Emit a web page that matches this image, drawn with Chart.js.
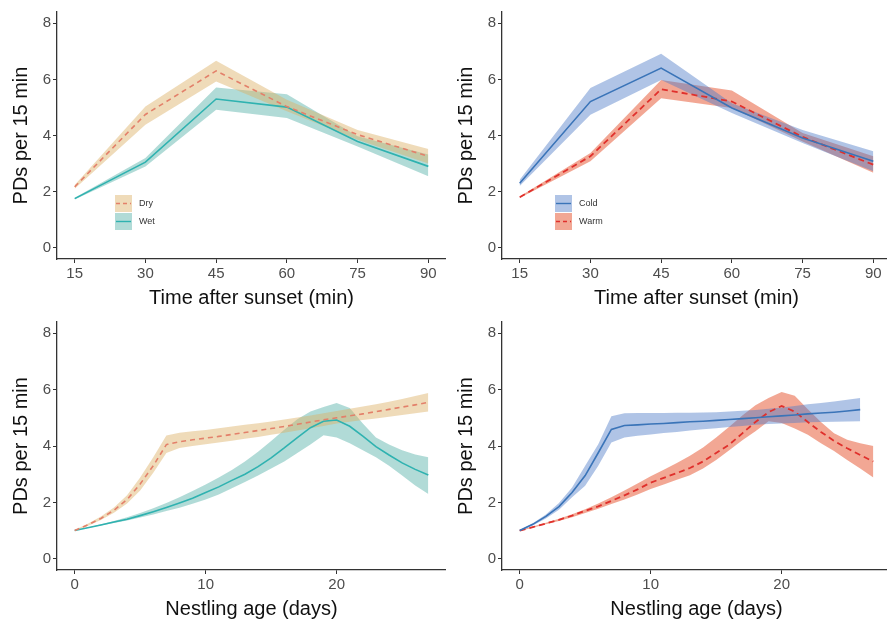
<!DOCTYPE html>
<html>
<head>
<meta charset="utf-8">
<script src="https://cdn.jsdelivr.net/npm/chart.js@4.4.1/dist/chart.umd.min.js"></script>
<style>
html, body { margin: 0; padding: 0; background: #fff; overflow: hidden; width: 887px; height: 621px; }
canvas { position: absolute; }
</style>
</head>
<body>
<canvas id="c1" width="446" height="310" style="left:0;top:0"></canvas>
<canvas id="c2" width="446" height="310" style="left:445px;top:0"></canvas>
<canvas id="c3" width="446" height="311" style="left:0;top:310px"></canvas>
<canvas id="c4" width="446" height="311" style="left:445px;top:310px"></canvas>
<script>
// x values
const minutes = [15, 30, 45, 60, 75, 90];
const days = [0, 1, 2, 3, 4, 5, 6, 7, 8, 9, 10, 11, 12, 13, 14, 15, 16, 17, 18, 19, 20, 21, 22, 23, 24, 25, 26, 27];
const yTicks = [0, 2, 4, 6, 8];
const minuteTicks = [15, 30, 45, 60, 75, 90];
const dayTicks = [0, 10, 20];

// time after sunset: rain
const dryMean = [2.17, 4.75, 6.3, 5.03, 4.03, 3.26];
const dryHi   = [2.24, 5.03, 6.66, 5.27, 4.2, 3.52];
const dryLo   = [2.1, 4.38, 5.92, 4.86, 3.85, 3.0];
const wetMean = [1.75, 3.05, 5.3, 5.01, 3.79, 2.9];
const wetHi   = [1.78, 3.2, 5.71, 5.47, 3.97, 3.32];
const wetLo   = [1.72, 2.9, 4.92, 4.62, 3.61, 2.55];

// time after sunset: temperature
const coldMean = [2.3, 5.21, 6.4, 4.98, 3.91, 3.08];
const coldHi   = [2.42, 5.69, 6.91, 5.15, 4.2, 3.44];
const coldLo   = [2.2, 4.74, 5.98, 4.8, 3.73, 2.73];
const warmMean = [1.8, 3.26, 5.65, 5.21, 3.95, 2.96];
const warmHi   = [1.83, 3.38, 5.98, 5.6, 4.09, 3.26];
const warmLo   = [1.77, 3.08, 5.33, 4.98, 3.79, 2.67];

// nestling age: rain
const ageDryMean = [1.0, 1.2, 1.43, 1.72, 2.1, 2.65, 3.3, 4.05, 4.15, 4.22, 4.28, 4.34, 4.41, 4.48, 4.55, 4.62, 4.69, 4.77, 4.85, 4.93, 5.0, 5.07, 5.14, 5.22, 5.3, 5.38, 5.46, 5.55];
const ageDryHi   = [1.02, 1.24, 1.5, 1.82, 2.25, 2.88, 3.6, 4.37, 4.47, 4.52, 4.57, 4.63, 4.69, 4.75, 4.81, 4.87, 4.94, 5.01, 5.08, 5.16, 5.24, 5.32, 5.4, 5.48, 5.57, 5.67, 5.77, 5.88];
const ageDryLo   = [0.98, 1.16, 1.37, 1.63, 1.96, 2.42, 3.05, 3.75, 3.93, 4.0, 4.06, 4.12, 4.19, 4.26, 4.32, 4.4, 4.47, 4.55, 4.63, 4.71, 4.8, 4.86, 4.92, 4.98, 5.04, 5.1, 5.16, 5.22];
const ageWetMean = [1.0, 1.1, 1.2, 1.3, 1.4, 1.53, 1.67, 1.82, 1.98, 2.15, 2.35, 2.55, 2.78, 3.0, 3.27, 3.58, 3.93, 4.3, 4.65, 4.88, 4.92, 4.7, 4.35, 3.98, 3.68, 3.4, 3.17, 2.97];
const ageWetHi   = [1.0, 1.11, 1.22, 1.34, 1.47, 1.62, 1.79, 1.98, 2.18, 2.4, 2.63, 2.88, 3.15, 3.45, 3.8, 4.18, 4.58, 4.95, 5.22, 5.38, 5.53, 5.35, 4.8, 4.3, 4.05, 3.85, 3.7, 3.6];
const ageWetLo   = [1.0, 1.09, 1.18, 1.27, 1.36, 1.46, 1.57, 1.69, 1.81, 1.95, 2.1, 2.28, 2.5, 2.72, 2.95, 3.2, 3.45, 3.75, 4.05, 4.38, 4.3, 4.1, 3.85, 3.6, 3.3, 2.95, 2.6, 2.3];

// nestling age: temperature (cold stops at day 26)
const ageColdMean = [1.0, 1.22, 1.5, 1.85, 2.35, 2.95, 3.76, 4.59, 4.73, 4.75, 4.78, 4.8, 4.83, 4.86, 4.88, 4.91, 4.94, 4.97, 5.0, 5.04, 5.07, 5.1, 5.14, 5.17, 5.2, 5.24, 5.29];
const ageColdHi   = [1.02, 1.26, 1.57, 1.98, 2.53, 3.3, 4.06, 5.06, 5.16, 5.17, 5.17, 5.17, 5.18, 5.18, 5.19, 5.2, 5.22, 5.25, 5.28, 5.32, 5.37, 5.42, 5.48, 5.53, 5.58, 5.64, 5.7];
const ageColdLo   = [0.98, 1.18, 1.43, 1.74, 2.18, 2.59, 3.3, 4.12, 4.3, 4.36, 4.41, 4.46, 4.5, 4.55, 4.59, 4.63, 4.67, 4.71, 4.75, 4.78, 4.8, 4.82, 4.84, 4.85, 4.86, 4.87, 4.88];
const ageWarmMean = [1.0, 1.12, 1.25, 1.38, 1.53, 1.7, 1.86, 2.05, 2.25, 2.46, 2.7, 2.87, 3.04, 3.22, 3.45, 3.75, 4.05, 4.45, 4.85, 5.2, 5.42, 5.22, 4.85, 4.5, 4.18, 3.92, 3.68, 3.45];
const ageWarmHi   = [1.02, 1.14, 1.28, 1.42, 1.58, 1.76, 1.96, 2.18, 2.42, 2.67, 2.93, 3.16, 3.4, 3.65, 3.95, 4.3, 4.68, 5.08, 5.45, 5.7, 5.92, 5.78, 5.3, 4.85, 4.45, 4.22, 4.1, 4.0];
const ageWarmLo   = [0.98, 1.1, 1.22, 1.34, 1.47, 1.62, 1.77, 1.94, 2.1, 2.28, 2.47, 2.63, 2.8, 2.96, 3.2, 3.5, 3.85, 4.2, 4.52, 4.88, 4.82, 4.62, 4.4, 4.1, 3.82, 3.5, 3.2, 2.88];

const FONT = "'Liberation Sans', Arial, sans-serif";

const styles = {
    Dry:  { line: '#e3806a', fill: 'rgba(220,176,100,0.45)', dash: [5, 4], width: 1.6 },
    Wet:  { line: '#2fb2b0', fill: 'rgba(70,170,160,0.42)', dash: [], width: 1.6 },
    Cold: { line: '#3a74b8', fill: 'rgba(80,125,200,0.45)', dash: [], width: 1.6 },
    Warm: { line: '#e0302c', fill: 'rgba(232,95,60,0.55)', dash: [6, 4], width: 1.8 }
};

function toXY(xs, ys) {
    return ys.map((y, i) => ({ x: xs[i], y: y }));
}

// legend drawn inside the plot, like the ggplot one
const insideLegend = {
    id: 'insideLegend',
    afterDraw(chart, args, opts) {
        if (!opts.items) return;
        const ctx = chart.ctx;
        ctx.save();
        opts.items.forEach((name, i) => {
            const st = styles[name];
            const x = opts.x, y = opts.y + i * 18;
            ctx.fillStyle = '#ffffff';
            ctx.fillRect(x, y, 17, 17);
            ctx.fillStyle = st.fill;
            ctx.fillRect(x, y, 17, 17);
            ctx.strokeStyle = st.line;
            ctx.lineWidth = 1.4;
            ctx.setLineDash(st.dash.length ? [4, 3] : []);
            ctx.beginPath();
            ctx.moveTo(x + 1, y + 8.5);
            ctx.lineTo(x + 16, y + 8.5);
            ctx.stroke();
            ctx.setLineDash([]);
            ctx.fillStyle = '#333333';
            ctx.font = '9px ' + FONT;
            ctx.textBaseline = 'middle';
            ctx.fillText(name, x + 24, y + 9);
        });
        ctx.restore();
    }
};

function makePanel(id, xs, series, xMin, xMax, xTickVals, xTitle, legend) {
    const datasets = [];
    series.forEach(s => {
        const st = styles[s.name];
        datasets.push({ data: toXY(xs, s.hi), borderWidth: 0, pointRadius: 0, backgroundColor: st.fill, fill: '+1', order: 2 });
        datasets.push({ data: toXY(xs, s.lo), borderWidth: 0, pointRadius: 0, fill: false, order: 2 });
    });
    series.forEach(s => {
        const st = styles[s.name];
        datasets.push({ data: toXY(xs, s.mean), borderColor: st.line, borderWidth: st.width, borderDash: st.dash, pointRadius: 0, fill: false, order: 0 });
    });
    new Chart(document.getElementById(id), {
        type: 'line',
        data: { datasets: datasets },
        plugins: [insideLegend],
        options: {
            responsive: false,
            animation: false,
            layout: { padding: { top: 12, right: 0, left: 0, bottom: 0 } },
            plugins: {
                legend: { display: false },
                tooltip: { enabled: false },
                insideLegend: legend
            },
            scales: {
                x: {
                    type: 'linear', min: xMin, max: xMax,
                    afterBuildTicks: sc => { sc.ticks = xTickVals.map(v => ({ value: v })); },
                    afterFit: sc => { sc.height = 51; },
                    grid: { drawOnChartArea: false, drawTicks: true, tickLength: 4, color: '#333' },
                    border: { display: true, color: '#333', width: 1.3 },
                    ticks: { color: '#4d4d4d', font: { family: FONT, size: 15 }, padding: 2, maxRotation: 0 },
                    title: { display: true, text: xTitle, color: '#111', font: { family: FONT, size: 20 }, padding: { top: 3, bottom: 0 } }
                },
                y: {
                    min: -0.4, max: 8.4,
                    afterBuildTicks: sc => { sc.ticks = yTicks.map(v => ({ value: v })); },
                    afterFit: sc => { sc.width = 57; },
                    grid: { drawOnChartArea: false, drawTicks: true, tickLength: 4, color: '#333' },
                    border: { display: true, color: '#333', width: 1.3 },
                    ticks: { color: '#4d4d4d', font: { family: FONT, size: 15 }, padding: 2 },
                    title: { display: true, text: 'PDs per 15 min', color: '#111', font: { family: FONT, size: 20 }, padding: { top: 9, bottom: 0 } }
                }
            }
        }
    });
}

makePanel('c1', minutes, [
    { name: 'Dry', mean: dryMean, hi: dryHi, lo: dryLo },
    { name: 'Wet', mean: wetMean, hi: wetHi, lo: wetLo }
], 11.25, 93.75, minuteTicks, 'Time after sunset (min)', { items: ['Dry', 'Wet'], x: 115, y: 195 });

makePanel('c2', minutes, [
    { name: 'Cold', mean: coldMean, hi: coldHi, lo: coldLo },
    { name: 'Warm', mean: warmMean, hi: warmHi, lo: warmLo }
], 11.25, 93.75, minuteTicks, 'Time after sunset (min)', { items: ['Cold', 'Warm'], x: 110, y: 195 });

makePanel('c3', days, [
    { name: 'Dry', mean: ageDryMean, hi: ageDryHi, lo: ageDryLo },
    { name: 'Wet', mean: ageWetMean, hi: ageWetHi, lo: ageWetLo }
], -1.35, 28.35, dayTicks, 'Nestling age (days)', {});

makePanel('c4', days, [
    { name: 'Cold', mean: ageColdMean, hi: ageColdHi, lo: ageColdLo },
    { name: 'Warm', mean: ageWarmMean, hi: ageWarmHi, lo: ageWarmLo }
], -1.35, 28.35, dayTicks, 'Nestling age (days)', {});
</script>
</body>
</html>
